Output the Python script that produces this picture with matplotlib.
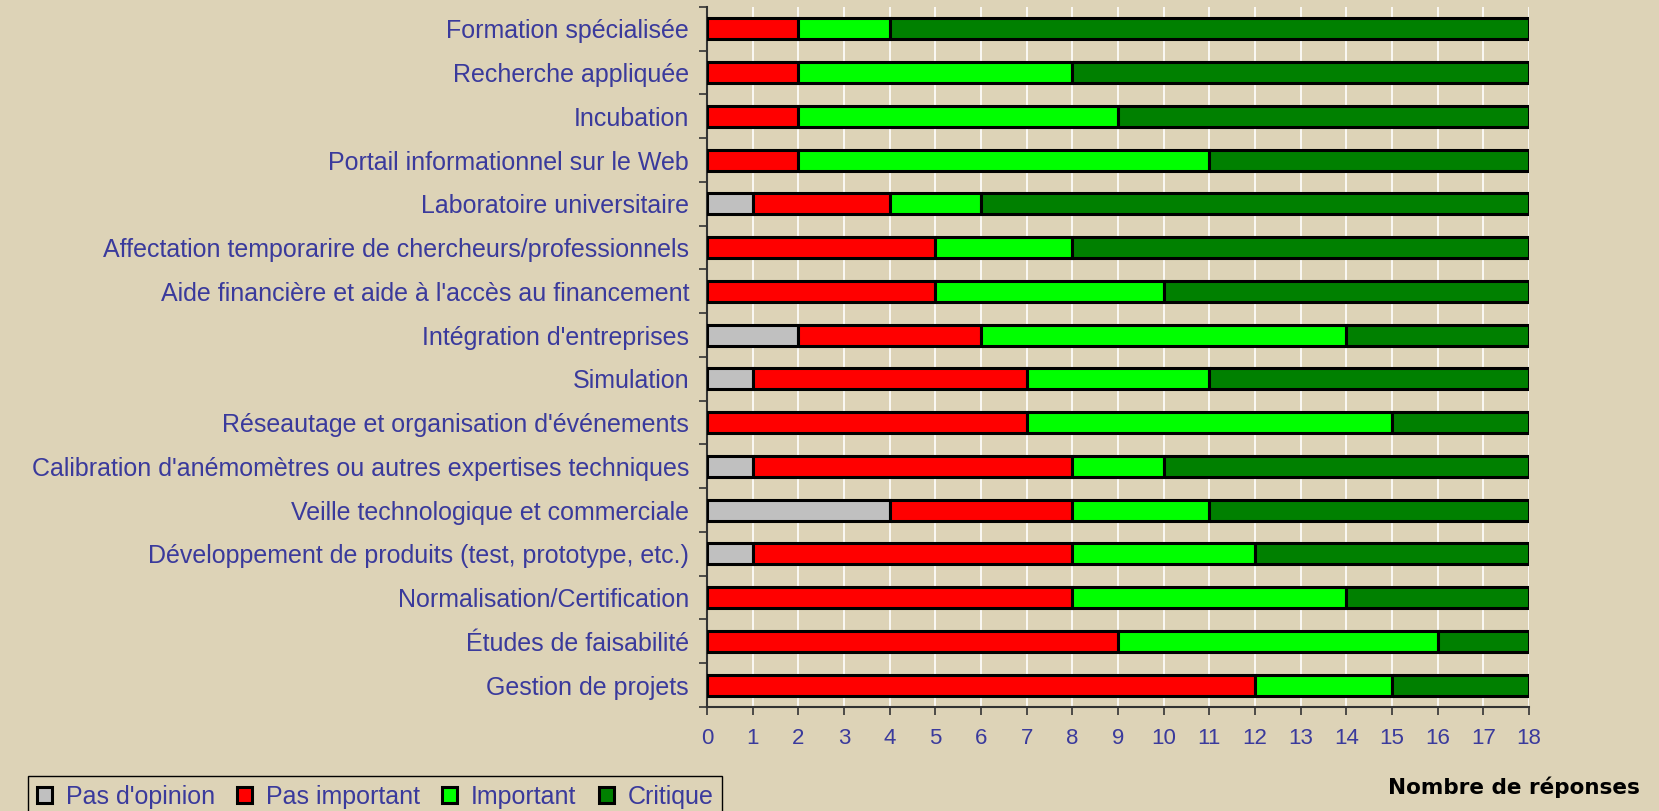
import matplotlib.pyplot as plt
import numpy as np

# Categories, top to bottom as in the chart
categories = [
    "Formation spécialisée",
    "Recherche appliquée",
    "Incubation",
    "Portail informationnel sur le Web",
    "Laboratoire universitaire",
    "Affectation temporarire de chercheurs/professionnels",
    "Aide financière et aide à l'accès au financement",
    "Intégration d'entreprises",
    "Simulation",
    "Réseautage et organisation d'événements",
    "Calibration d'anémomètres ou autres expertises techniques",
    "Veille technologique et commerciale",
    "Développement de produits (test, prototype, etc.)",
    "Normalisation/Certification",
    "Études de faisabilité",
    "Gestion de projets",
]

pas_opinion   = [0, 0, 0, 0, 1, 0, 0, 2, 1, 0, 1, 4, 1, 0, 0, 0]
pas_important = [2, 2, 2, 2, 3, 5, 5, 4, 6, 7, 7, 4, 7, 8, 9, 12]
important     = [2, 6, 7, 9, 2, 3, 5, 8, 4, 8, 2, 3, 4, 6, 7, 3]
critique      = [14, 10, 9, 7, 12, 10, 8, 4, 7, 3, 8, 7, 6, 4, 2, 3]

series_names = ["Pas d'opinion", "Pas important", "Important", "Critique"]
colors = ["#C0C0C0", "#FF0000", "#00FF00", "#008000"]

bg = "#DDD3B7"
blue = "#3A3A9C"

fig = plt.figure(figsize=(16.59, 8.11), dpi=100, facecolor=bg)
ax = fig.add_axes([0.4262, 0.1283, 0.9216 - 0.4262, 0.9914 - 0.1283])
ax.set_facecolor(bg)

y = np.arange(len(categories))
left = np.zeros(len(categories))
handles = []
for vals, name, col in zip([pas_opinion, pas_important, important, critique], series_names, colors):
    vals = np.array(vals, dtype=float)
    b = ax.barh(y, vals, left=left, height=0.48, color=col, edgecolor="black",
                linewidth=2.2, label=name, zorder=3)
    handles.append(b)
    left += vals

ax.set_ylim(len(categories) - 0.5, -0.5)
ax.set_xlim(0, 18)
ax.set_xticks(range(0, 19))

# y ticks at category boundaries, labels at centres
ax.set_yticks(np.arange(-0.5, len(categories), 1.0))
ax.set_yticklabels([])
ax.set_yticks(y, minor=True)
ax.set_yticklabels(categories, minor=True)
ax.tick_params(axis="y", which="minor", length=0, pad=13, labelsize=18, labelcolor=blue)
ax.tick_params(axis="y", which="major", length=6, width=1.2, color="#333333", direction="out")
ax.tick_params(axis="x", length=6, width=1.2, color="#333333", direction="out",
               labelsize=16, labelcolor=blue, pad=9)

for lbl in ax.get_yticklabels(minor=True) + ax.get_xticklabels():
    lbl.set_fontfamily("Liberation Sans")

ax.grid(axis="x", color="white", linewidth=1.2, zorder=0)
ax.spines["top"].set_visible(False)
ax.spines["right"].set_visible(False)
ax.spines["left"].set_color("#333333")
ax.spines["bottom"].set_color("#333333")
ax.spines["left"].set_linewidth(1.5)
ax.spines["bottom"].set_linewidth(1.5)

leg = fig.legend(handles=handles, labels=series_names, loc="upper left",
                 bbox_to_anchor=(28 / 1659, 1 - 776 / 811), ncol=4, frameon=True,
                 fancybox=False, edgecolor="black", facecolor=bg, framealpha=1,
                 handlelength=0.6, handleheight=0.6, handletextpad=0.55,
                 columnspacing=0.9, borderpad=0.35, borderaxespad=0,
                 prop={"family": "Liberation Sans", "size": 18})
for t in leg.get_texts():
    t.set_color(blue)

fig.text(1640 / 1659, 1 - 787 / 811, "Nombre de réponses", ha="right", va="center",
         fontsize=15.5, fontweight="bold", color="black", family="DejaVu Sans")

fig.savefig("out.png", dpi=100, facecolor=bg)
